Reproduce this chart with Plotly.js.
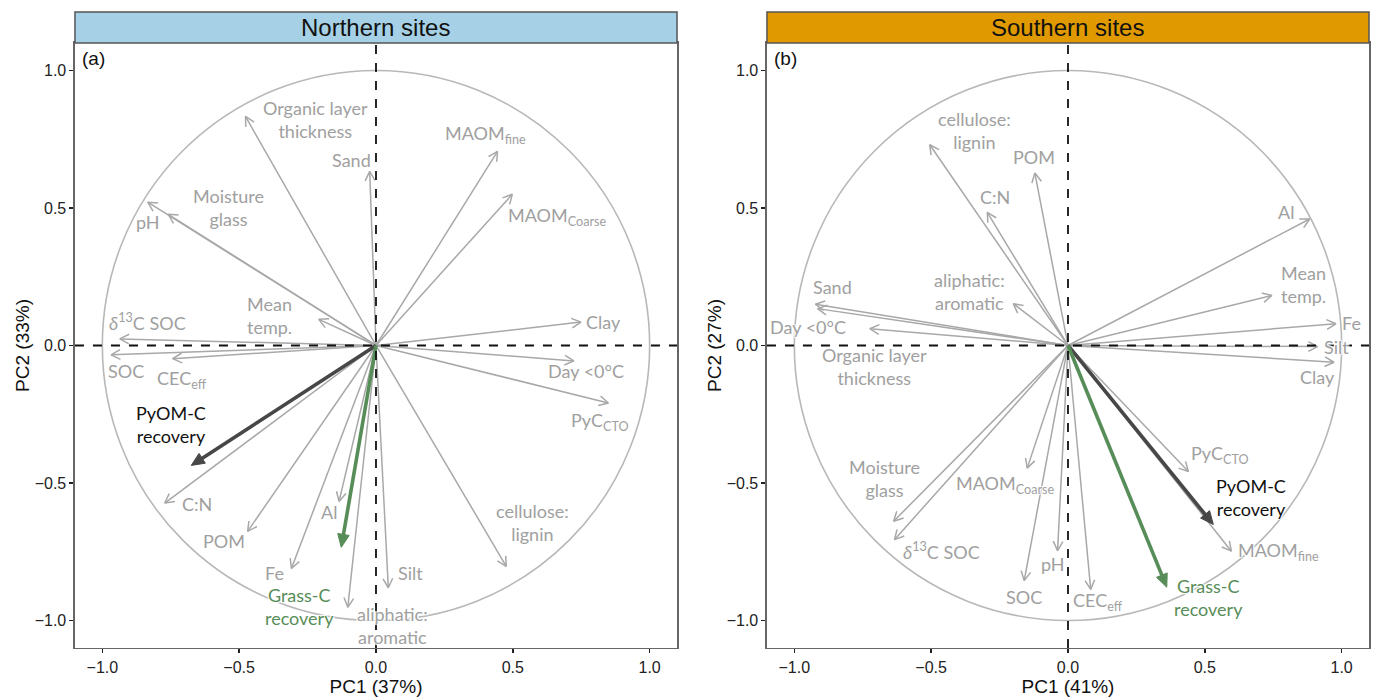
<!DOCTYPE html>
<html>
<head>
<meta charset="utf-8">
<script src="https://cdn.plot.ly/plotly-3.0.1.min.js"></script>
<style>html,body{margin:0;padding:0;background:#fff}#chart{width:1373px;height:699px}</style>
</head>
<body>
<div id="chart"></div>
<script>
// ---------- Panel (a): Northern sites ----------
const northVars = ['Organic layer<br>thickness', 'Sand', 'MAOM<sub>fine</sub>', 'MAOM<sub>Coarse</sub>', 'pH',
  'Moisture<br>glass', 'Mean<br>temp.', '<i>δ</i><sup>13</sup>C SOC', 'Clay', 'SOC', 'CEC<sub>eff</sub>',
  'Day <0°C', 'PyC<sub>CTO</sub>', 'C:N', 'POM', 'Al', 'Fe', 'aliphatic:<br>aromatic', 'Silt', 'cellulose:<br>lignin'];
const northPC1 = [-0.477, -0.023, 0.444, 0.498, -0.834, -0.759, -0.209, -0.936, 0.749, -0.968, -0.743,
  0.723, 0.849, -0.772, -0.469, -0.135, -0.309, -0.103, 0.045, 0.476];
const northPC2 = [0.833, 0.633, 0.706, 0.550, 0.521, 0.477, 0.095, 0.024, 0.085, -0.034, -0.048,
  -0.056, -0.209, -0.573, -0.676, -0.567, -0.811, -0.952, -0.881, -0.803];
const northLabX = [-0.22, -0.09, 0.40, 0.66, -0.834, -0.539, -0.389, -0.834, 0.83, -0.912, -0.71,
  0.768, 0.817, -0.654, -0.555, -0.172, -0.37, 0.061, 0.125, 0.572];
const northLabY = [0.82, 0.673, 0.766, 0.468, 0.448, 0.501, 0.108, 0.085, 0.085, -0.094, -0.125,
  -0.094, -0.276, -0.575, -0.712, -0.605, -0.827, -1.02, -0.827, -0.643];
const northResp = ['PyOM-C<br>recovery', 'Grass-C<br>recovery'];
const northRespPC1 = [-0.675, -0.127];
const northRespPC2 = [-0.436, -0.734];
const northRespLabX = [-0.75, -0.281];
const northRespLabY = [-0.286, -0.948];

// ---------- Panel (b): Southern sites ----------
const southVars = ['cellulose:<br>lignin', 'POM', 'C:N', 'aliphatic:<br>aromatic', 'Sand', 'Day <0°C',
  'Organic layer<br>thickness', 'Al', 'Mean<br>temp.', 'Fe', 'Silt', 'Clay', 'PyC<sub>CTO</sub>',
  'MAOM<sub>fine</sub>', 'MAOM<sub>Coarse</sub>', 'Moisture<br>glass', '<i>δ</i><sup>13</sup>C SOC', 'pH', 'SOC', 'CEC<sub>eff</sub>'];
const southPC1 = [-0.505, -0.121, -0.295, -0.200, -0.923, -0.724, -0.915, 0.883, 0.745, 0.979, 0.912, 0.972,
  0.440, 0.597, -0.149, -0.637, -0.634, -0.038, -0.160, 0.083];
const southPC2 = [0.730, 0.627, 0.484, 0.152, 0.150, 0.061, 0.134, 0.460, 0.182, 0.079, -0.004, -0.061,
  -0.458, -0.748, -0.446, -0.639, -0.706, -0.746, -0.855, -0.887];
const southLabX = [-0.343, -0.125, -0.267, -0.359, -0.859, -0.95, -0.708, 0.797, 0.859, 1.036, 0.983, 0.912,
  0.554, 0.769, -0.229, -0.669, -0.462, -0.054, -0.16, 0.11];
const southLabY = [0.781, 0.684, 0.541, 0.195, 0.212, 0.067, -0.076, 0.487, 0.223, 0.083, -0.007, -0.116,
  -0.395, -0.748, -0.506, -0.482, -0.748, -0.794, -0.915, -0.932];
const southResp = ['PyOM-C<br>recovery', 'Grass-C<br>recovery'];
const southRespPC1 = [0.531, 0.361];
const southRespPC2 = [-0.651, -0.879];
const southRespLabX = [0.67, 0.515];
const southRespLabY = [-0.554, -0.915];

// ---------- Axis / panel text ----------
const panelTitles = ['Northern sites', 'Southern sites'];
const panelTags = ['(a)', '(b)'];
const xTitles = ['PC1 (37%)', 'PC1 (41%)'];
const yTitles = ['PC2 (33%)', 'PC2 (27%)'];
const axisRange = [-1.1, 1.1];
const tickStep = 0.5;

// ---------- Styling ----------
const GRAY = '#a8a8a8';
const LABGRAY = '#a0a0a0';
const DARK = '#474747';
const GREEN = '#578d58';
const stripColors = ['#a6d0e5', '#e09a00'];
const axisFont = 'Liberation Sans, Arial, sans-serif';
const labFont = 'Lato, Open Sans, sans-serif';
const halo = '1px 1px 1px #fff, -1px -1px 1px #fff, 1px -1px 1px #fff, -1px 1px 1px #fff';

const xDomains = [[0.0546, 0.4931], [0.5586, 0.9971]];
const yDomain = [0.073, 0.9385];
const stripTop = 0.9828;
const HEAD_LEN = 0.038;          // open arrow head length (axis units)
const HEAD_ANG = Math.PI / 6.5;  // half-angle of open arrow head
const FHEAD_LEN = 0.052;         // filled arrow head length (axis units)
const FHEAD_ANG = 0.42;          // half-angle of filled arrow head

function baseAxis(title, standoff) {
  return {
    range: axisRange, tick0: 0, dtick: tickStep, tickformat: '.1f',
    showgrid: false, zeroline: false,
    showline: true, mirror: true, linecolor: '#666', linewidth: 1.5,
    ticks: 'outside', ticklen: 4, tickwidth: 1.5, tickcolor: '#222',
    tickfont: {family: axisFont, size: 16, color: '#222'},
    title: {text: title, font: {family: axisFont, size: 19, color: '#111'}, standoff: standoff},
    fixedrange: true
  };
}
function xAxis(i) {
  return Object.assign(baseAxis(xTitles[i], 4), {domain: xDomains[i], anchor: i === 0 ? 'y' : 'y2'});
}
function yAxis(i) {
  return Object.assign(baseAxis(yTitles[i], 0), {domain: yDomain, anchor: i === 0 ? 'x' : 'x2'});
}

const panels = [
  {vars: northVars, pc1: northPC1, pc2: northPC2, lx: northLabX, ly: northLabY,
   resp: northResp, rpc1: northRespPC1, rpc2: northRespPC2, rlx: northRespLabX, rly: northRespLabY},
  {vars: southVars, pc1: southPC1, pc2: southPC2, lx: southLabX, ly: southLabY,
   resp: southResp, rpc1: southRespPC1, rpc2: southRespPC2, rlx: southRespLabX, rly: southRespLabY}
];

const traces = [];
const shapes = [];
const annotations = [];

panels.forEach((p, i) => {
  const xr = i === 0 ? 'x' : 'x2';
  const yr = i === 0 ? 'y' : 'y2';

  // gray loading arrows: shafts from origin + open heads, built from the loadings
  const sx = [], sy = [];
  p.pc1.forEach((x, k) => {
    const y = p.pc2[k];
    const t = Math.atan2(y, x);
    sx.push(0, x, null,
      x - HEAD_LEN * Math.cos(t - HEAD_ANG), x, x - HEAD_LEN * Math.cos(t + HEAD_ANG), null);
    sy.push(0, y, null,
      y - HEAD_LEN * Math.sin(t - HEAD_ANG), y, y - HEAD_LEN * Math.sin(t + HEAD_ANG), null);
  });
  traces.push({type: 'scatter', mode: 'lines', x: sx, y: sy, xaxis: xr, yaxis: yr,
    line: {color: GRAY, width: 1.5}, hoverinfo: 'skip', showlegend: false, connectgaps: false});

  // response arrows (thick shaft, filled head)
  const rc = [DARK, GREEN];
  p.resp.forEach((v, k) => {
    const x = p.rpc1[k], y = p.rpc2[k];
    const t = Math.atan2(y, x);
    traces.push({type: 'scatter', mode: 'lines',
      x: [0, x - 0.7 * FHEAD_LEN * Math.cos(t)], y: [0, y - 0.7 * FHEAD_LEN * Math.sin(t)],
      xaxis: xr, yaxis: yr, line: {color: rc[k], width: 3.6},
      hoverinfo: 'skip', showlegend: false});
    traces.push({type: 'scatter', mode: 'lines', fill: 'toself', fillcolor: rc[k],
      x: [x, x - FHEAD_LEN * Math.cos(t - FHEAD_ANG), x - FHEAD_LEN * Math.cos(t + FHEAD_ANG), x],
      y: [y, y - FHEAD_LEN * Math.sin(t - FHEAD_ANG), y - FHEAD_LEN * Math.sin(t + FHEAD_ANG), y],
      xaxis: xr, yaxis: yr, line: {color: rc[k], width: 1},
      hoverinfo: 'skip', showlegend: false});
  });

  // correlation circle
  shapes.push({type: 'circle', xref: xr, yref: yr, x0: -1, x1: 1, y0: -1, y1: 1,
    line: {color: '#b8b8b8', width: 1.6}, layer: 'below'});

  // dashed zero lines
  shapes.push({type: 'line', xref: xr, yref: yr, x0: axisRange[0], x1: axisRange[1], y0: 0, y1: 0,
    line: {color: '#111', width: 1.8, dash: 'dash'}, layer: 'above'});
  shapes.push({type: 'line', xref: xr, yref: yr, x0: 0, x1: 0, y0: axisRange[0], y1: axisRange[1],
    line: {color: '#111', width: 1.8, dash: 'dash'}, layer: 'above'});

  // strip
  shapes.push({type: 'rect', xref: 'paper', yref: 'paper', x0: xDomains[i][0], x1: xDomains[i][1],
    y0: yDomain[1], y1: stripTop, fillcolor: stripColors[i], line: {color: '#555', width: 1.5}, layer: 'above'});
  annotations.push({xref: 'paper', yref: 'paper', x: (xDomains[i][0] + xDomains[i][1]) / 2,
    y: (yDomain[1] + stripTop) / 2, text: panelTitles[i], showarrow: false, xanchor: 'center', yanchor: 'middle',
    font: {family: axisFont, size: 24, color: '#111'}});

  // panel tag
  annotations.push({xref: xr + ' domain', yref: yr + ' domain', x: 0.008, y: 0.995, text: panelTags[i],
    showarrow: false, xanchor: 'left', yanchor: 'top', font: {family: axisFont, size: 19, color: '#111'}});

  // gray labels
  p.vars.forEach((v, k) => {
    annotations.push({xref: xr, yref: yr, x: p.lx[k], y: p.ly[k], text: v, showarrow: false,
      xanchor: 'center', yanchor: 'middle', align: 'center',
      font: {family: labFont, size: 18, color: LABGRAY, shadow: halo}});
  });

  // response labels
  const tc = ['#111', GREEN];
  p.resp.forEach((v, k) => {
    annotations.push({xref: xr, yref: yr, x: p.rlx[k], y: p.rly[k], text: v, showarrow: false,
      xanchor: 'center', yanchor: 'middle', align: 'center',
      font: {family: labFont, size: 18, color: tc[k], shadow: halo}});
  });
});

const layout = {
  width: 1373, height: 699, margin: {l: 0, r: 0, t: 0, b: 0},
  paper_bgcolor: '#fff', plot_bgcolor: '#fff', showlegend: false,
  xaxis: xAxis(0), yaxis: yAxis(0), xaxis2: xAxis(1), yaxis2: yAxis(1),
  shapes: shapes, annotations: annotations
};

Plotly.newPlot('chart', traces, layout, {displayModeBar: false, staticPlot: true});
</script>
</body>
</html>
